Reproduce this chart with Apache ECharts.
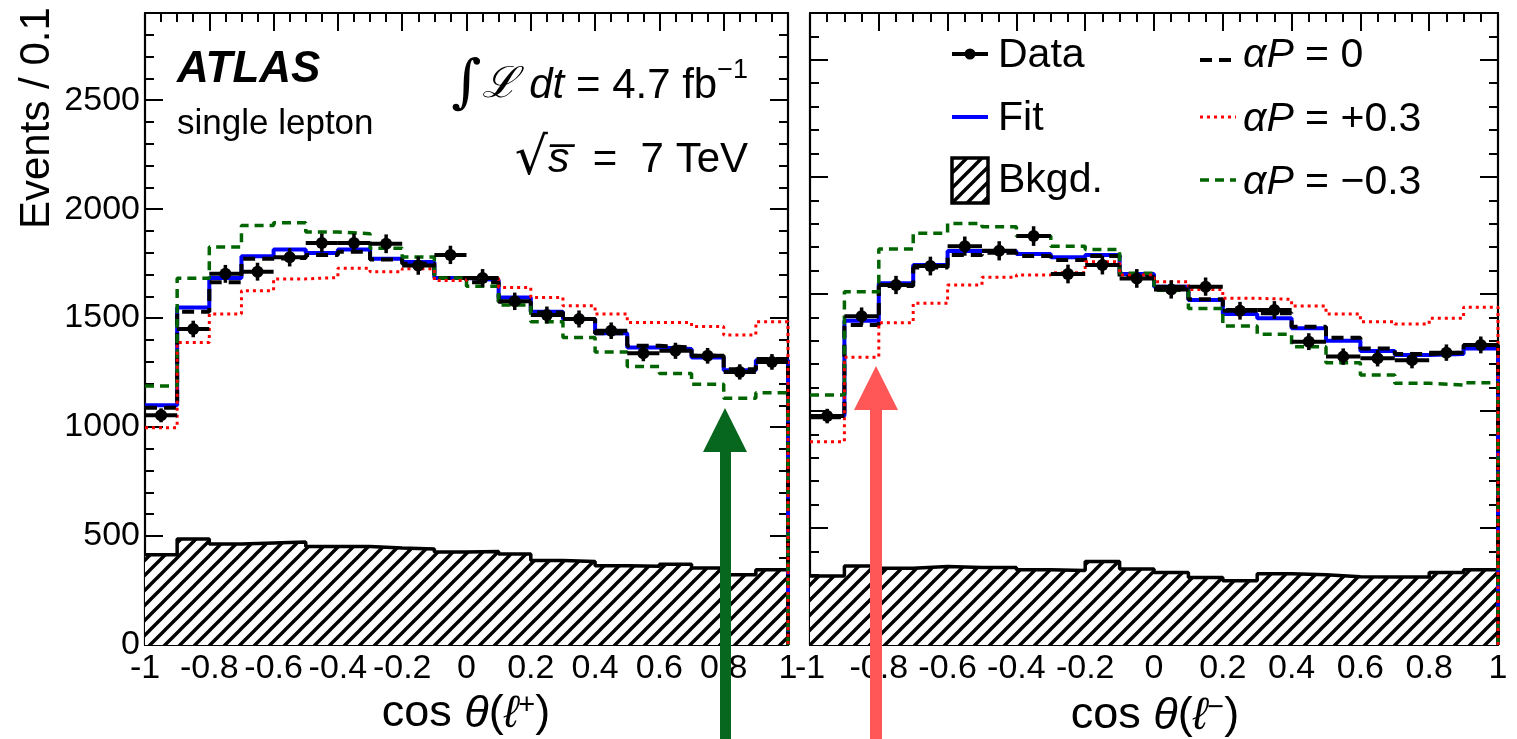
<!DOCTYPE html>
<html><head><meta charset="utf-8">
<script src="https://cdn.jsdelivr.net/npm/echarts@6/dist/echarts.min.js"></script>
<style>html,body{margin:0;padding:0;background:#fff}#c{width:1517px;height:739px}</style>
</head><body><div id="c"></div>
<script>
// ---------- data ----------
const binEdges = [-1, -0.9, -0.8, -0.7, -0.6, -0.5, -0.4, -0.3, -0.2, -0.1, 0, 0.1, 0.2, 0.3, 0.4, 0.5, 0.6, 0.7, 0.8, 0.9];
const binWidth = 0.1;
const xTickLabels = ['-1', '-0.8', '-0.6', '-0.4', '-0.2', '0', '0.2', '0.4', '0.6', '0.8', '1'];

// cos theta(l+) panel
const dataPlus   = [1054, 1450, 1703, 1713, 1779, 1845, 1845, 1841, 1741, 1790, 1684, 1577, 1514, 1496, 1442, 1339, 1350, 1327, 1253, 1299];
const errPlus    = [32, 38, 41, 41, 42, 43, 43, 43, 42, 42, 41, 40, 39, 39, 38, 37, 37, 36, 35, 36];
const fitPlus    = [1100, 1549, 1684, 1784, 1815, 1799, 1815, 1772, 1757, 1684, 1675, 1595, 1529, 1496, 1431, 1365, 1358, 1319, 1261, 1307];
const aP0Plus    = [1089, 1529, 1664, 1772, 1776, 1790, 1805, 1769, 1749, 1684, 1664, 1575, 1526, 1496, 1431, 1373, 1365, 1327, 1265, 1312];
const aPposPlus  = [997, 1388, 1519, 1626, 1680, 1686, 1729, 1713, 1726, 1672, 1683, 1641, 1595, 1557, 1519, 1480, 1480, 1462, 1422, 1483];
const aPnegPlus  = [1189, 1683, 1826, 1925, 1937, 1895, 1887, 1821, 1780, 1684, 1646, 1560, 1483, 1411, 1345, 1278, 1246, 1196, 1132, 1158];
const bkgPlus    = [414, 486, 463, 468, 473, 452, 452, 445, 440, 427, 429, 417, 388, 383, 364, 361, 371, 353, 322, 345];

// cos theta(l-) panel
const dataMinus  = [978, 1405, 1538, 1619, 1704, 1684, 1747, 1585, 1623, 1566, 1519, 1531, 1428, 1431, 1296, 1232, 1225, 1217, 1249, 1282];
const errMinus   = [31, 37, 39, 40, 41, 41, 42, 40, 40, 40, 39, 39, 38, 38, 36, 35, 35, 35, 35, 36];
const fitMinus   = [978, 1385, 1545, 1623, 1683, 1683, 1670, 1656, 1666, 1585, 1531, 1474, 1414, 1396, 1353, 1300, 1256, 1239, 1243, 1267];
const aP0Minus   = [973, 1367, 1534, 1613, 1666, 1676, 1662, 1645, 1662, 1573, 1531, 1477, 1431, 1417, 1360, 1313, 1267, 1243, 1249, 1282];
const aPposMinus = [868, 1229, 1377, 1460, 1538, 1571, 1581, 1590, 1637, 1581, 1552, 1519, 1481, 1477, 1448, 1414, 1381, 1371, 1396, 1443];
const aPnegMinus = [1068, 1509, 1692, 1759, 1801, 1787, 1747, 1704, 1690, 1588, 1516, 1438, 1363, 1328, 1274, 1206, 1153, 1118, 1111, 1120];
const bkgMinus   = [295, 338, 328, 335, 331, 331, 321, 318, 357, 325, 310, 288, 275, 304, 300, 292, 290, 290, 310, 321];

// ---------- helpers ----------
const FONT = '"Liberation Sans", Arial, Helvetica, sans-serif';
function hatchCanvas() {
  const s = 15, c = document.createElement('canvas');
  c.width = s; c.height = s;
  const g = c.getContext('2d');
  g.fillStyle = '#fff'; g.fillRect(0, 0, s, s);
  g.strokeStyle = '#000'; g.lineWidth = 3.4; g.lineCap = 'square';
  g.beginPath();
  g.moveTo(-3, s + 3); g.lineTo(s + 3, -3);
  g.moveTo(-3, 3); g.lineTo(3, -3);
  g.moveTo(s - 3, s + 3); g.lineTo(s + 3, s - 3);
  g.stroke();
  return c;
}
const hatch = { image: hatchCanvas(), repeat: 'repeat' };

const DASH_BLACK = [12, 7], DASH_GREEN = [9, 6], DOT_RED = [3, 4];

function stepData(vals) {
  const d = binEdges.map((e, i) => [e, vals[i]]);
  d.push([binEdges[binEdges.length - 1] + binWidth, vals[vals.length - 1]]);
  d.push([binEdges[binEdges.length - 1] + binWidth, 0]);
  return d;
}
function stepSeries(vals, xi, yi, color, width, dash, z) {
  return { type: 'line', xAxisIndex: xi, yAxisIndex: yi, data: stepData(vals), step: 'end',
    symbol: 'none', showSymbol: false, silent: true, z: z,
    lineStyle: { color: color, width: width, type: dash } };
}
function bkgSeries(vals, xi, yi) {
  return { type: 'line', xAxisIndex: xi, yAxisIndex: yi, data: stepData(vals), step: 'end',
    symbol: 'none', showSymbol: false, silent: true, z: 1,
    lineStyle: { color: '#000', width: 3.5 }, areaStyle: { color: hatch, opacity: 1, origin: 'start' } };
}
function dataSeries(vals, errs, xi, yi) {
  return { type: 'custom', xAxisIndex: xi, yAxisIndex: yi, z: 10, silent: true,
    data: binEdges.map((e, i) => [e, vals[i], errs[i]]),
    renderItem: function (params, api) {
      const lo = api.value(0), v = api.value(1), er = api.value(2);
      const pL = api.coord([lo, v]), pR = api.coord([lo + binWidth, v]);
      const pC = api.coord([lo + binWidth / 2, v]);
      const pT = api.coord([lo + binWidth / 2, v + er]), pB = api.coord([lo + binWidth / 2, v - er]);
      return { type: 'group', children: [
        { type: 'line', shape: { x1: pL[0], y1: pL[1], x2: pR[0], y2: pR[1] }, style: { stroke: '#000', lineWidth: 4 } },
        { type: 'line', shape: { x1: pT[0], y1: pT[1], x2: pB[0], y2: pB[1] }, style: { stroke: '#000', lineWidth: 3.5 } },
        { type: 'circle', shape: { cx: pC[0], cy: pC[1], r: 6 }, style: { fill: '#000' } }
      ] };
    } };
}
function xAx(grid, pos, labels) {
  return { type: 'value', gridIndex: grid, position: pos, min: -1, max: 1, interval: 0.2,
    axisLine: { show: true, onZero: false, lineStyle: { color: '#000', width: 2.2 } },
    axisTick: { show: true, inside: true, length: 18, lineStyle: { color: '#000', width: 2 } },
    minorTick: { show: true, splitNumber: 4, length: 9, lineStyle: { color: '#000', width: 2 } },
    splitLine: { show: false }, minorSplitLine: { show: false },
    axisLabel: { show: labels, showMinLabel: true, showMaxLabel: true, hideOverlap: false, color: '#000',
      fontSize: 34, fontFamily: FONT, margin: 7,
      formatter: function (v) { return xTickLabels[Math.round((v + 1) / 0.2)]; } } };
}
function yAx(grid, pos, max, interval, tickLen, showLine, labels) {
  return { type: 'value', gridIndex: grid, position: pos, min: 0, max: max, interval: interval,
    axisLine: { show: showLine, onZero: false, lineStyle: { color: '#000', width: 2.2 } },
    axisTick: { show: true, inside: true, length: tickLen, lineStyle: { color: '#000', width: 2 } },
    splitLine: { show: false },
    axisLabel: { show: labels, showMinLabel: true, showMaxLabel: false, color: '#000', fontSize: 34, fontFamily: FONT, margin: 5,
      formatter: function (v) { return String(Math.round(v)); } } };
}

// ---------- legend / annotation graphics ----------
const LF = '41px ' + FONT;
const ITF = 'italic 41px ' + FONT;
const graphics = [
  { type: 'text', x: 37, y: 229, rotation: Math.PI / 2, style: { text: 'Events / 0.1', font: '42px ' + FONT, fill: '#000', align: 'left', verticalAlign: 'middle' } },
  { type: 'text', x: 177, y: 70, style: { text: 'ATLAS', font: 'italic bold 44px ' + FONT, fill: '#000', verticalAlign: 'middle' } },
  { type: 'text', x: 177, y: 124, style: { text: 'single lepton', font: '35px ' + FONT, fill: '#000', verticalAlign: 'middle' } },
  { type: 'text', x: 748, y: 86, style: { text: '{i|∫}{L|ℒ}{it| dt}{n| = 4.7 fb}{s|−1}', align: 'right', verticalAlign: 'middle', fill: '#000',
      rich: { i: { font: '58px "DejaVu Serif"', fill: '#000' }, L: { font: 'italic 43px "DejaVu Serif"', fill: '#000' },
              it: { font: 'italic 42px ' + FONT, fill: '#000' }, n: { font: '42px ' + FONT, fill: '#000' },
              s: { font: '27px ' + FONT, fill: '#000', verticalAlign: 'top' } } } },
  { type: 'text', x: 748, y: 160, style: { text: '{r|√}{it|s\u0305}{n|  =  7 TeV}', align: 'right', verticalAlign: 'middle', fill: '#000',
      rich: { r: { font: '52px "DejaVu Sans"', fill: '#000' }, it: { font: 'italic 43px ' + FONT, fill: '#000' }, n: { font: '42px ' + FONT, fill: '#000' } } } },
  // axis titles
  { type: 'text', x: 466, y: 714, style: { text: '{n|cos }{it|θ}{n|(}{it|ℓ}{s|+}{n|)}', align: 'center', verticalAlign: 'middle', fill: '#000',
      rich: { n: { font: '45px ' + FONT, fill: '#000' }, it: { font: 'italic 45px ' + FONT, fill: '#000' }, s: { font: '29px ' + FONT, fill: '#000', verticalAlign: 'top' } } } },
  { type: 'text', x: 1155, y: 716, style: { text: '{n|cos }{it|θ}{n|(}{it|ℓ}{s|−}{n|)}', align: 'center', verticalAlign: 'middle', fill: '#000',
      rich: { n: { font: '45px ' + FONT, fill: '#000' }, it: { font: 'italic 45px ' + FONT, fill: '#000' }, s: { font: '29px ' + FONT, fill: '#000', verticalAlign: 'top' } } } },
  // legend left column
  { type: 'line', shape: { x1: 952, y1: 54, x2: 988, y2: 54 }, style: { stroke: '#000', lineWidth: 4 } },
  { type: 'circle', shape: { cx: 970, cy: 54, r: 5.5 }, style: { fill: '#000' } },
  { type: 'text', x: 998, y: 56, style: { text: 'Data', font: LF, fill: '#000', verticalAlign: 'middle' } },
  { type: 'line', shape: { x1: 952, y1: 117, x2: 988, y2: 117 }, style: { stroke: '#0000ff', lineWidth: 4 } },
  { type: 'text', x: 998, y: 119, style: { text: 'Fit', font: LF, fill: '#000', verticalAlign: 'middle' } },
  { type: 'rect', shape: { x: 952, y: 158, width: 36, height: 45 }, style: { fill: hatch, stroke: '#000', lineWidth: 3.5 } },
  { type: 'text', x: 998, y: 181, style: { text: 'Bkgd.', font: LF, fill: '#000', verticalAlign: 'middle' } },
  // legend right column
  { type: 'line', shape: { x1: 1200, y1: 60, x2: 1236, y2: 60 }, style: { stroke: '#000', lineWidth: 4, lineDash: DASH_BLACK } },
  { type: 'text', x: 1243, y: 56, style: { text: '{it|αP} = 0', font: LF, fill: '#000', verticalAlign: 'middle',
      rich: { it: { font: ITF, fill: '#000' } } } },
  { type: 'line', shape: { x1: 1200, y1: 117, x2: 1236, y2: 117 }, style: { stroke: '#ff0000', lineWidth: 3, lineDash: DOT_RED } },
  { type: 'text', x: 1243, y: 120, style: { text: '{it|αP} = +0.3', font: LF, fill: '#000', verticalAlign: 'middle',
      rich: { it: { font: ITF, fill: '#000' } } } },
  { type: 'line', shape: { x1: 1200, y1: 180, x2: 1236, y2: 180 }, style: { stroke: '#006400', lineWidth: 3.5, lineDash: DASH_GREEN } },
  { type: 'text', x: 1243, y: 183, style: { text: '{it|αP} = −0.3', font: LF, fill: '#000', verticalAlign: 'middle',
      rich: { it: { font: ITF, fill: '#000' } } } },
  // arrows
  { type: 'polygon', z: 100, shape: { points: [[725, 408], [747, 452], [731, 452], [731, 739], [720, 739], [720, 452], [703, 452]] }, style: { fill: '#07671f' } },
  { type: 'polygon', z: 100, shape: { points: [[876, 366], [898, 410], [882, 410], [882, 739], [870, 739], [870, 410], [854, 410]] }, style: { fill: '#ff5757' } }
];

const chart = echarts.init(document.getElementById('c'), null, { renderer: 'canvas' });
chart.setOption({
  animation: false,
  backgroundColor: '#fff',
  grid: [
    { left: 145, top: 13, width: 643, height: 632, containLabel: false, outerBoundsMode: 'none' },
    { left: 810, top: 13, width: 688, height: 632, containLabel: false, outerBoundsMode: 'none' }
  ],
  xAxis: [xAx(0, 'bottom', true), xAx(0, 'top', false), xAx(1, 'bottom', true), xAx(1, 'top', false)],
  yAxis: [
    yAx(0, 'left', 2900, 500, 18, true, true), yAx(0, 'right', 2900, 500, 18, true, false),
    yAx(0, 'left', 2900, 100, 9, false, false), yAx(0, 'right', 2900, 100, 9, false, false),
    yAx(1, 'left', 2700, 500, 18, true, false), yAx(1, 'right', 2700, 500, 18, true, false),
    yAx(1, 'left', 2700, 100, 9, false, false), yAx(1, 'right', 2700, 100, 9, false, false)
  ],
  series: [
    bkgSeries(bkgPlus, 0, 0),
    stepSeries(fitPlus, 0, 0, '#0000ff', 4, 'solid', 3),
    stepSeries(aP0Plus, 0, 0, '#000000', 4, DASH_BLACK, 4),
    stepSeries(aPnegPlus, 0, 0, '#006400', 3.5, DASH_GREEN, 5),
    stepSeries(aPposPlus, 0, 0, '#ff0000', 3, DOT_RED, 6),
    dataSeries(dataPlus, errPlus, 0, 0),
    bkgSeries(bkgMinus, 2, 4),
    stepSeries(fitMinus, 2, 4, '#0000ff', 4, 'solid', 3),
    stepSeries(aP0Minus, 2, 4, '#000000', 4, DASH_BLACK, 4),
    stepSeries(aPnegMinus, 2, 4, '#006400', 3.5, DASH_GREEN, 5),
    stepSeries(aPposMinus, 2, 4, '#ff0000', 3, DOT_RED, 6),
    dataSeries(dataMinus, errMinus, 2, 4)
  ],
  graphic: graphics
});
</script></body></html>
